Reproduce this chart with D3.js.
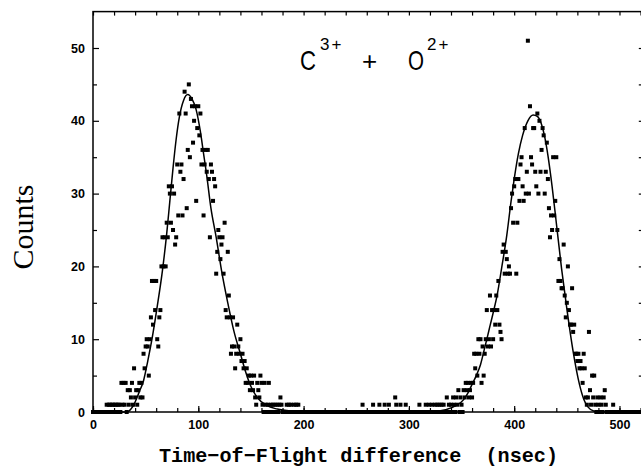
<!DOCTYPE html>
<html lang="en">
<head>
<meta charset="UTF-8" />
<title>C3+ + O2+ time-of-flight difference</title>
<style>
  html, body { margin: 0; padding: 0; background: #fff; }
  svg { display: block; }
</style>
</head>
<body>
<script src="https://d3js.org/d3.v7.min.js"></script>
<script>
// measured counts, one bin per nsec
const peak1Start = 0;
const peak1Counts = [
  0,0,0,0,0,0,0,0,0,0,
  0,0,0,1,0,1,1,0,1,1,
  0,1,1,0,1,1,0,4,1,4,
  1,4,0,3,1,3,2,4,1,6,
  2,3,1,3,4,2,4,2,8,6,
  9,10,9,5,10,13,18,12,18,14,
  18,10,9,13,14,20,24,20,24,20,
  26,24,31,30,26,31,25,30,23,24,
  34,27,41,33,34,27,32,44,41,28,
  36,45,35,43,42,37,40,42,29,39,
  42,38,41,34,36,27,34,36,33,36,
  32,24,34,33,29,32,31,19,22,25,
  24,21,23,24,19,26,14,13,22,16,
  13,8,9,13,9,6,8,12,9,8,
  10,7,8,6,7,4,6,4,5,3,
  5,4,3,5,2,1,4,3,2,5,
  4,1,0,4,1,0,1,4,0,1,
  0,1,0,1,0,1,0,1,2,1,
  0,0,0,0,1,0,1,0,1,0,
  0,1,0,1,0,1,0,0,0,0
];
const valleyStart = 200;
const valleyCounts = [
  0,0,0,0,0,0,0,0,0,0,
  0,0,0,0,0,0,0,0,0,0,
  0,0,0,0,0,0,0,0,0,0,
  0,0,0,0,0,0,0,0,0,0,
  0,0,0,0,0,0,0,0,0,0,
  0,0,0,0,0,0,1,0,0,0,
  0,0,0,0,0,0,1,0,0,0,
  0,0,1,0,0,0,0,1,0,0,
  0,1,0,0,0,0,0,2,1,0,
  0,0,1,0,0,0,0,1,0,0,
  0,0,0,0,0,0,0,0,0,0,
  1,0,0,0,0,0,1,0,0,1,
  0,0,1,0,0,1,0,1,0,1,
  0,1,0,1,0,0,2,0,1,0
];
const peak2Start = 340;
const peak2Counts = [
  1,0,2,1,0,2,1,3,0,2,
  1,0,3,2,4,3,4,2,3,4,
  2,4,8,6,8,5,10,8,10,4,
  9,5,8,10,14,9,10,16,9,14,
  10,14,12,16,14,18,12,11,10,22,
  23,19,22,21,19,20,19,28,30,26,
  31,32,19,26,32,29,34,35,31,29,
  39,30,33,51,30,42,35,34,39,39,
  33,31,41,30,40,33,36,39,38,30,
  33,37,32,28,24,27,25,35,27,29,
  35,25,18,21,18,17,17,23,16,13,
  15,20,14,12,12,17,11,12,8,8,
  7,8,6,7,6,4,8,6,2,1,
  2,11,3,1,5,2,5,1,0,2,
  1,0,2,1,0,2,3,1,0,0,
  0,0,0,0,1,0,0,0,0,0,
  0,0,0,0,0,0,0,0,0,0,
  0,0,0,0,0,0,0,0,0,0
];

// fitted curve as [nsec, counts]
const fitLeft = [
  [0,0],[32,0],[38,0.8],[44,2.8],[48,4.3],[52,7],[56,10],[61,14.5],[66,19.5],
  [70,24.5],[73,29],[76,33.5],[79,37.5],[82,40.5],[86,42.8],[90,43.6],[94,43],
  [98,41.5],[102,38.5],[105,35.5],[108,32.5],[112,28],[117,24],[122,19.5],
  [128,15],[134,11],[140,8],[145,5.5],[150,3.5],[156,2],[165,0.9],[175,0.4],
  [190,0.1],[205,0]
];
const fitRight = [
  [205,0],[320,0],[335,0.3],[345,0.9],[352,1.7],[356,2.6],[360,3.8],[364,5],
  [368,6.5],[372,8.8],[376,11.2],[380,13.6],[384,16.2],[388,19.7],[393,24.3],
  [397,28.9],[400,32],[404,35.5],[408,38],[413,40],[418,40.8],[422,40.6],
  [426,39.5],[429,37.8],[432,35.3],[436,31],[440,26],[445,19.7],[450,14.2],
  [456,8.3],[462,3.8],[466,1.8],[470,0.7],[476,0.1],[482,0],[525,0]
];

const xTicks = [0, 100, 200, 300, 400, 500];
const yTicks = [0, 10, 20, 30, 40, 50];

const width = 641;
const height = 470;

const x = d3.scaleLinear().domain([0, 525]).range([93, 645.8]);
const y = d3.scaleLinear().domain([0, 55]).range([412, 11.6]);

const svg = d3.select("body").append("svg")
  .attr("width", width)
  .attr("height", height)
  .attr("viewBox", [0, 0, width, height]);

// frame
svg.append("rect")
  .attr("x", x(0)).attr("y", y(55))
  .attr("width", x(525) - x(0)).attr("height", y(0) - y(55))
  .attr("fill", "none").attr("stroke", "#000").attr("stroke-width", 1.5);

function plain(g) {
  g.select(".domain").remove();
  g.selectAll(".tick line").attr("stroke", "#000").attr("stroke-width", 1.2);
}

function labels(g) {
  g.selectAll("text")
    .attr("fill", "#000")
    .attr("font-family", "'Liberation Sans', Arial, sans-serif")
    .attr("font-weight", "bold")
    .attr("font-size", 12.5);
}

// minor ticks on all four sides
svg.append("g").attr("transform", `translate(0,${y(0)})`)
  .call(d3.axisBottom(x).tickValues(d3.range(0, 521, 20)).tickSize(-4).tickFormat(""))
  .call(plain);
svg.append("g").attr("transform", `translate(0,${y(55)})`)
  .call(d3.axisTop(x).tickValues(d3.range(0, 521, 20)).tickSize(-4).tickFormat(""))
  .call(plain);
svg.append("g").attr("transform", `translate(${x(0)},0)`)
  .call(d3.axisLeft(y).tickValues(d3.range(5, 55, 10)).tickSize(-4).tickFormat(""))
  .call(plain);
svg.append("g").attr("transform", `translate(${x(525)},0)`)
  .call(d3.axisRight(y).tickValues(d3.range(5, 55, 5)).tickSize(-7).tickFormat(""))
  .call(plain);

// labelled ticks
svg.append("g").attr("transform", `translate(0,${y(0)})`)
  .call(d3.axisBottom(x).tickValues(xTicks).tickSize(-6).tickPadding(8.5))
  .call(plain).call(labels);
svg.append("g").attr("transform", `translate(${x(0)},0)`)
  .call(d3.axisLeft(y).tickValues(yTicks).tickSize(-6).tickPadding(8))
  .call(plain).call(labels);

// fitted curve
const line = d3.line()
  .x(d => x(d[0]))
  .y(d => y(d[1]))
  .curve(d3.curveMonotoneX);

svg.append("path")
  .datum(fitLeft.concat(fitRight.slice(1)))
  .attr("fill", "none")
  .attr("stroke", "#000")
  .attr("stroke-width", 1.5)
  .attr("d", line);

// data points
const points = [];
[[peak1Start, peak1Counts], [valleyStart, valleyCounts], [peak2Start, peak2Counts]]
  .forEach(([start, counts]) => counts.forEach((c, i) => points.push({t: start + i, c})));

svg.append("g")
  .selectAll("rect")
  .data(points)
  .join("rect")
  .attr("x", d => x(d.t) - 2)
  .attr("y", d => y(d.c) - 2)
  .attr("width", 4)
  .attr("height", 4)
  .attr("fill", "#000");

// axis titles
svg.append("text")
  .attr("transform", "translate(33,227) rotate(-90)")
  .attr("text-anchor", "middle")
  .attr("font-family", "'Liberation Serif', 'Times New Roman', serif")
  .attr("font-size", 30)
  .attr("fill", "#000")
  .text("Counts");

svg.append("text")
  .attr("x", 159).attr("y", 462)
  .attr("xml:space", "preserve")
  .attr("textLength", 399)
  .attr("lengthAdjust", "spacingAndGlyphs")
  .attr("font-family", "'Liberation Mono', 'Courier New', monospace")
  .attr("font-weight", "bold")
  .attr("font-size", 21)
  .attr("fill", "#000")
  .text("Time\u2212of\u2212Flight difference  (nsec)");

// ion label
const title = svg.append("g")
  .attr("font-family", "'Liberation Sans', Arial, sans-serif")
  .attr("fill", "#000");
title.append("text").attr("x", 300).attr("y", 70).attr("font-size", 28)
  .attr("textLength", 16).attr("lengthAdjust", "spacingAndGlyphs").text("C");
title.append("text").attr("x", 320).attr("y", 50).attr("font-size", 17)
  .attr("letter-spacing", 2).text("3+");
title.append("text").attr("x", 362).attr("y", 70).attr("font-size", 26).text("+");
title.append("text").attr("x", 408).attr("y", 70).attr("font-size", 28)
  .attr("textLength", 16).attr("lengthAdjust", "spacingAndGlyphs").text("O");
title.append("text").attr("x", 427).attr("y", 50).attr("font-size", 17)
  .attr("letter-spacing", 2).text("2+");
</script>
</body>
</html>
